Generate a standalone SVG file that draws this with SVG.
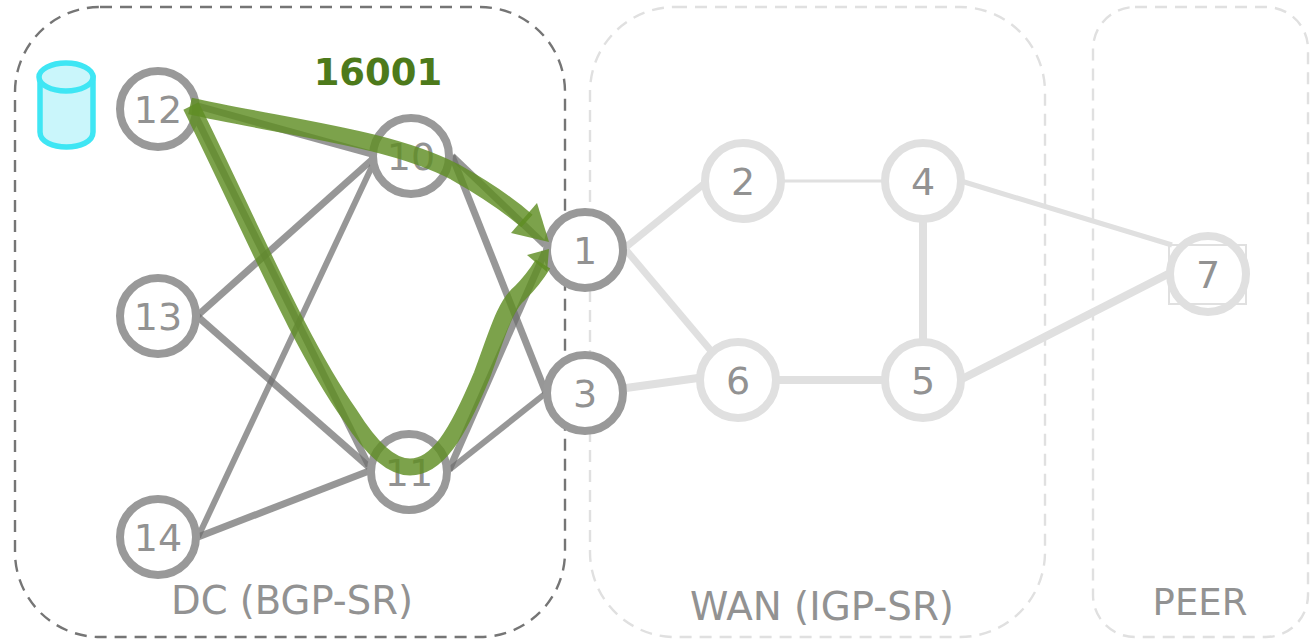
<svg xmlns="http://www.w3.org/2000/svg" width="1314" height="639" viewBox="0 0 1314 639">
<style>
text{font-family:"DejaVu Sans",Verdana,sans-serif;font-size:38px;text-anchor:middle;fill:#929292}
.zone{fill:none;stroke-width:2.4;stroke-dasharray:12 8}
.n{fill:#fff;stroke-width:8}
.dc{stroke:#999}
.wan{stroke:#e0e0e0}
.l{fill:none;stroke-linecap:butt}
.gl{stroke:#6f6f6f;stroke-opacity:.72}
.wl{stroke:#e0e0e0}
.sr{fill:none;stroke:#5f8d23;stroke-opacity:.82;stroke-width:17}
.head{fill:#5f8d23;fill-opacity:.82}
</style>
<rect class="zone" x="15" y="7" width="550" height="630" rx="85" stroke="#757575"/>
<rect class="zone" x="590" y="7" width="455" height="630" rx="85" stroke="#e0e0e0"/>
<rect class="zone" x="1093" y="7" width="215" height="630" rx="42" stroke="#e0e0e0"/>
<text x="292" y="614" style="font-size:38.5px">DC (BGP-SR)</text>
<text x="822" y="620" style="font-size:38.8px">WAN (IGP-SR)</text>
<text x="1200" y="615" style="font-size:37px">PEER</text>
<g id="connectors">
<path class="l gl" stroke-width="7" d="M187 103L375 155"/>
<path class="l gl" stroke-width="7" d="M190 105L369 466"/>
<path class="l gl" stroke-width="7" d="M197 316L375 157"/>
<path class="l gl" stroke-width="7" d="M197 316L369 467"/>
<path class="l gl" stroke-width="6" d="M198 537L375 160"/>
<path class="l gl" stroke-width="7" d="M198 537L369 471"/>
<path class="l gl" stroke-width="7" d="M452 156L545 245"/>
<path class="l gl" stroke-width="7" d="M452 156L546 393"/>
<path class="l gl" stroke-width="7" d="M449 470L545 252"/>
<path class="l gl" stroke-width="6" d="M449 470L546 393"/>
<path class="l wl" stroke-width="7" d="M626 247L705 183"/>
<path class="l wl" stroke-width="7" d="M626 250L712 352"/>
<path class="l wl" stroke-width="8" d="M626 388L698 378"/>
<path class="l wl" stroke-width="3" d="M783 181H885"/>
<path class="l wl" stroke-width="8" d="M923 220V342"/>
<path class="l wl" stroke-width="8" d="M777 380H885"/>
<path class="l wl" stroke-width="5" d="M961 181L1172 245"/>
<path class="l wl" stroke-width="8" d="M960 380L1172 272"/>
</g>
<g id="cylinder">
<path d="M40 78V132C40 152 93 152 93 132V78Z" fill="#caf6fb" stroke="#3fe6f4" stroke-width="5.5"/>
<ellipse cx="66" cy="77" rx="27" ry="14" fill="#caf6fb" stroke="#3fe6f4" stroke-width="5.5"/>
</g>
<g id="node-12"><circle class="n dc" cx="158" cy="109" r="38"/><text x="158" y="123">12</text></g>
<g id="node-10"><circle class="n dc" cx="411" cy="156" r="38"/><text x="411" y="170">10</text></g>
<g id="node-13"><circle class="n dc" cx="158" cy="316" r="38"/><text x="158" y="330">13</text></g>
<g id="node-11"><circle class="n dc" cx="409" cy="472" r="38"/><text x="409" y="486">11</text></g>
<g id="node-14"><circle class="n dc" cx="158" cy="537" r="38"/><text x="158" y="551">14</text></g>
<g id="node-1"><circle class="n dc" cx="585" cy="250" r="38"/><text x="585" y="264">1</text></g>
<g id="node-3"><circle class="n dc" cx="585" cy="393" r="38"/><text x="585" y="407">3</text></g>
<g id="node-2"><circle class="n wan" cx="743" cy="181" r="38"/><text x="743" y="195">2</text></g>
<g id="node-4"><circle class="n wan" cx="923" cy="181" r="38"/><text x="923" y="195">4</text></g>
<g id="node-6"><circle class="n wan" cx="738" cy="380" r="38"/><text x="738" y="394">6</text></g>
<g id="node-5"><circle class="n wan" cx="923" cy="380" r="38"/><text x="923" y="394">5</text></g>
<g id="node-7"><rect x="1169" y="245" width="77" height="59" fill="none" stroke="#e0e0e0" stroke-width="2"/><circle class="n wan" cx="1208" cy="274" r="38" fill-opacity="0"/><text x="1208" y="288">7</text></g>
<g id="path-16001">
<path class="sr" d="M190 106C290 128 390 138 455 172C485 189 510 206 527 221"/>
<path class="head" d="M537 203L549 242L511 233Z"/>
<path class="sr" d="M191 106C250 225 300 345 350 415C372 450 392 467 410 467C437 467 457 435 482 375C497 335 505 305 520 293C530 283 538 272 543 264"/>
<path class="head" d="M527 255L549 249L547 272Z"/>
</g>
<text x="378" y="85" style="font-weight:bold;fill:#4d7a1b;font-size:37px">16001</text>
</svg>
